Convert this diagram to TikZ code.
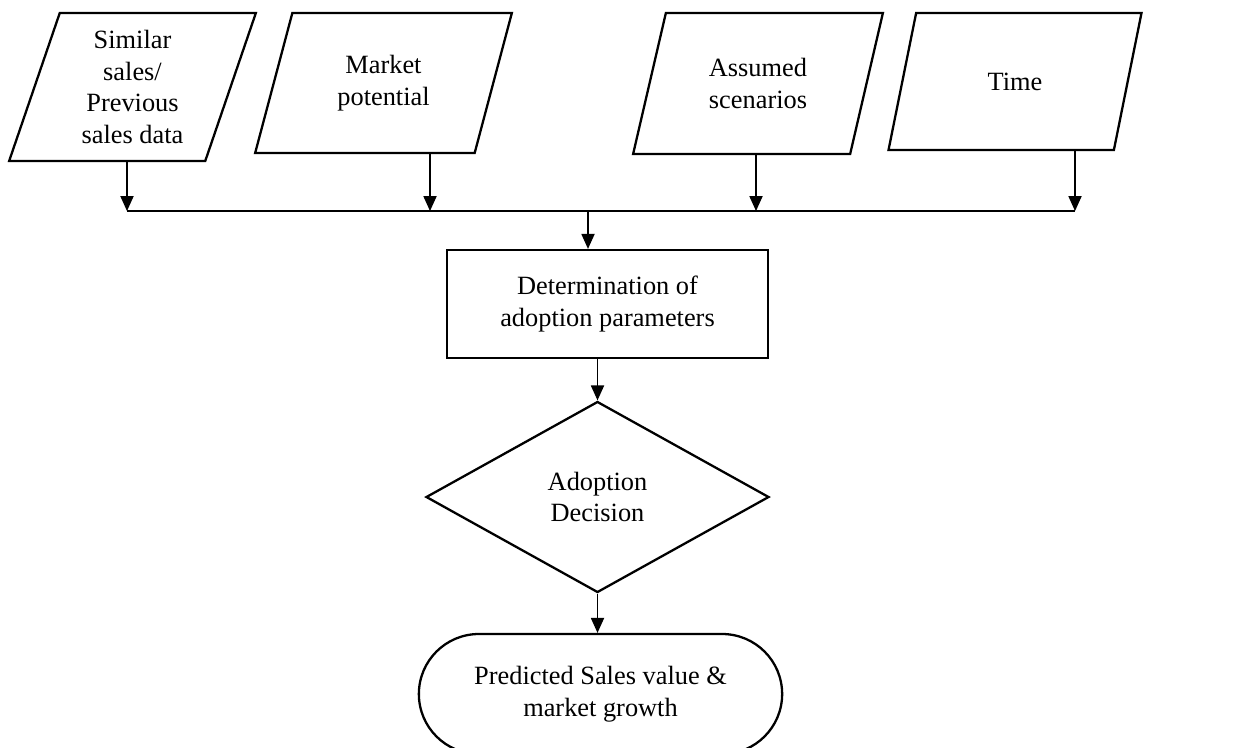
\documentclass[tikz,border=0pt]{standalone}
\usepackage{fontspec}
\setmainfont{Liberation Serif}
\usetikzlibrary{positioning, arrows.meta, shapes.geometric, shapes.misc}

\begin{document}
\begin{tikzpicture}[
    line/.style={draw, line width=0.7pt},
    arr/.style={line, -{Triangle[length=8.5pt, width=7.5pt]}},
    inbox/.style={draw, line width=1.3pt, trapezium, trapezium left angle=72.5,
      trapezium right angle=107.5, trapezium stretches=true, align=center},
    font=\fontsize{15}{18}\selectfont
  ]
    \useasboundingbox (0,0) rectangle (24.78,-14.94);
    % Inputs (parallelograms)
    \node[inbox, minimum width=4.94cm, minimum height=2.96cm] (sales) at (2.65,-1.74) {Similar\\sales/\\Previous\\sales data};
    \node[inbox, minimum width=5.14cm, minimum height=2.80cm] (market) at (7.67,-1.66) {Market\\potential};
    \node[inbox, minimum width=5.00cm, minimum height=2.82cm] (scen) at (15.16,-1.67) {Assumed\\scenarios};
    \node[inbox, minimum width=5.08cm, minimum height=2.74cm] (time) at (20.30,-1.63) {Time};
    % Collecting line
    \coordinate (b1) at (2.54,-4.22);
    \coordinate (b2) at (8.60,-4.22);
    \coordinate (b3) at (15.12,-4.22);
    \coordinate (b4) at (21.50,-4.22);
    \coordinate (bj) at (11.76,-4.22);
    \draw[arr] (sales.south -| b1) -- (b1);
    \draw[arr] (market.south -| b2) -- (b2);
    \draw[arr] (scen.south -| b3) -- (b3);
    \draw[arr] (time.south -| b4) -- (b4);
    \draw[line] (b1) -- (b4);
    % Parameters
    \node[draw, line width=1.3pt, minimum width=6.42cm, minimum height=2.16cm, align=center] (param) at (12.15,-6.08) {Determination of\\adoption parameters};
    \draw[arr] (bj) -- (bj |- param.north);
    % Decision (diamond)
    \node[draw, line width=1.3pt, diamond, minimum width=6.86cm, minimum height=3.82cm, inner sep=0pt, align=center] (dec) at (11.95,-9.94) {Adoption\\Decision};
    \draw[arr] (dec.north |- param.south) -- (dec.north);
    % Output (terminal)
    \node[draw, line width=1.3pt, rounded rectangle, minimum width=7.5cm, minimum height=2.4cm, align=center] (out) at (12.01,-13.88) {Predicted Sales value \&\\market growth};
    \draw[arr] (dec.south) -- (dec.south |- out.north);
\end{tikzpicture}
\end{document}
